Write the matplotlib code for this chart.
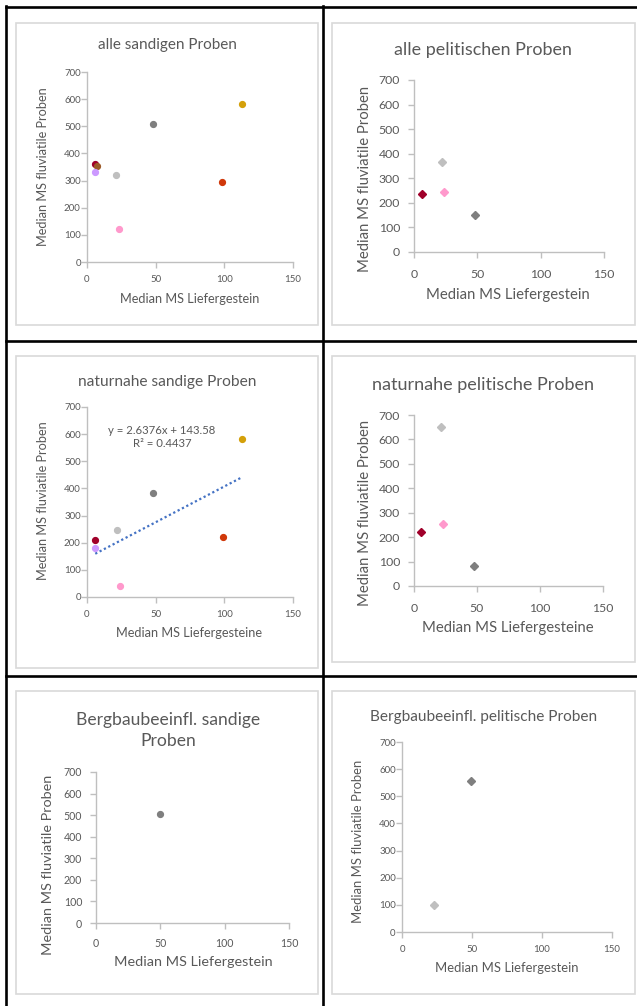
import matplotlib
matplotlib.use("Agg")
import matplotlib.pyplot as plt
from matplotlib.lines import Line2D
from matplotlib.patches import Rectangle

plt.rcParams['font.family'] = ['Lato', 'DejaVu Sans']

W, H = 637, 1006
TXT = '#595959'
AX = '#BFBFBF'

# colours of the sample groups (Excel palette)
c_darkred = '#A0002A'
c_brown = '#9C5A28'
c_violet = '#CC99FF'
c_lgray = '#BFBFBF'
c_pink = '#FF99CC'
c_dgray = '#7F7F7F'
c_orange = '#D0380A'
c_gold = '#D4A00A'

# alle sandigen Proben
p1_x = [5.6, 7.5, 5.6, 21.1, 23.5, 48.0, 98.5, 112.6]
p1_y = [361, 354, 330, 322, 120, 508, 294, 581]
p1_c = [c_darkred, c_brown, c_violet, c_lgray, c_pink, c_dgray, c_orange, c_gold]

# alle pelitischen Proben
p2_x = [22.1, 6.1, 24.0, 48.5]
p2_y = [366, 235, 245, 150]
p2_c = [c_lgray, c_darkred, c_pink, c_dgray]

# naturnahe sandige Proben
p3_x = [6.0, 6.0, 21.5, 24.0, 48.4, 98.7, 112.7]
p3_y = [209, 182, 246, 40, 385, 220, 582]
p3_c = [c_darkred, c_violet, c_lgray, c_pink, c_dgray, c_orange, c_gold]
trend_slope = 2.6376
trend_icpt = 143.58
trend_r2 = 0.4437

# naturnahe pelitische Proben
p4_x = [21.5, 23.4, 5.3, 48.0]
p4_y = [651, 252, 220, 82]
p4_c = [c_lgray, c_pink, c_darkred, c_dgray]

# Bergbaubeeinfl. sandige Proben
p5_x = [49.5]
p5_y = [506]
p5_c = [c_dgray]

# Bergbaubeeinfl. pelitische Proben
p6_x = [49.5, 22.9]
p6_y = [558, 100]
p6_c = [c_dgray, c_lgray]

xticks = [0, 50, 100, 150]
yticks = [0, 100, 200, 300, 400, 500, 600, 700]
ylab = 'Median MS fluviatile Proben'

fig = plt.figure(figsize=(W / 100, H / 100), dpi=100)


def fx(x):
    return x / W


def fy(y):
    return 1 - y / H


def box(x0, y0, x1, y1):
    fig.add_artist(Rectangle((fx(x0), fy(y1)), fx(x1) - fx(x0), fy(y0) - fy(y1),
                             transform=fig.transFigure, fill=False,
                             edgecolor='#D9D9D9', lw=1.2))


def panel(rect, xs, ys, cs, marker, msize, title, tpos, tsize, xlabel, xlpos,
          ylpos, lsize, ticksize, xpad, ypad):
    x0, y0, x1, y1 = rect
    ax = fig.add_axes([fx(x0), fy(y1), fx(x1) - fx(x0), fy(y0) - fy(y1)])
    for x, y, c in zip(xs, ys, cs):
        ax.plot(x, y, marker=marker, ms=msize, color=c, mec=c, ls='none',
                clip_on=False, zorder=3)
    ax.set_xlim(0, 150)
    ax.set_ylim(0, 700)
    ax.set_xticks(xticks)
    ax.set_yticks(yticks)
    for s in ['top', 'right']:
        ax.spines[s].set_visible(False)
    for s in ['left', 'bottom']:
        ax.spines[s].set_color(AX)
        ax.spines[s].set_linewidth(1.0)
    ax.tick_params(axis='both', colors=AX, labelcolor=TXT, labelsize=ticksize,
                   length=4, width=1.0)
    ax.tick_params(axis='x', pad=xpad)
    ax.tick_params(axis='y', pad=ypad)
    ax.set_xlabel(xlabel, fontsize=lsize, color=TXT, va='center', ha='center')
    ax.set_ylabel(ylab, fontsize=lsize, color=TXT, va='center', ha='center')
    ax.xaxis.set_label_coords((xlpos[0] - x0) / (x1 - x0), (y1 - xlpos[1]) / (y1 - y0))
    ax.yaxis.set_label_coords((ylpos[0] - x0) / (x1 - x0), (y1 - ylpos[1]) / (y1 - y0))
    if isinstance(tpos[0], (list, tuple)):
        for t, p in zip(title, tpos):
            fig.text(fx(p[0]), fy(p[1]), t, fontsize=tsize, color=TXT,
                     ha='center', va='center')
    else:
        fig.text(fx(tpos[0]), fy(tpos[1]), title, fontsize=tsize, color=TXT,
                 ha='center', va='center')
    return ax


# grey chart frames
box(16, 23, 318, 325)
box(332, 23, 635, 325)
box(16, 356, 318, 668)
box(332, 356, 635, 662)
box(16, 691, 318, 994)
box(332, 691, 635, 994)

panel((87, 72, 293, 262), p1_x, p1_y, p1_c, 'o', 4.2,
      'alle sandigen Proben', (167, 45), 11,
      'Median MS Liefergestein', (190, 299), (43, 167), 9.2, 7.0, 5.5, 0.5)

panel((414, 80, 604, 252), p2_x, p2_y, p2_c, 'D', 4.2,
      'alle pelitischen Proben', (483, 50), 12.9,
      'Median MS Liefergestein', (508, 295), (365, 179), 10.7, 8.8, 8, 6)

ax3 = panel((87, 407, 293, 597), p3_x, p3_y, p3_c, 'o', 4.2,
            'naturnahe sandige Proben', (167, 382), 11.2,
            'Median MS Liefergesteine', (189, 633), (43, 501), 9.2, 7.0, 5.5, 0.5)
tx = [min(p3_x), max(p3_x)]
ty = [trend_slope * v + trend_icpt for v in tx]
ax3.plot(tx, ty, ls=(0, (1, 1.2)), color='#4472C4', lw=1.6, zorder=2)
ax3.text(54.5, 615, 'y = %.4fx + %.2f' % (trend_slope, trend_icpt),
         fontsize=8.2, color=TXT, ha='center', va='center')
ax3.text(54.5, 567, 'R² = %.4f' % trend_r2,
         fontsize=8.2, color=TXT, ha='center', va='center')

panel((414, 415, 603, 586), p4_x, p4_y, p4_c, 'D', 4.2,
      'naturnahe pelitische Proben', (483, 385), 13,
      'Median MS Liefergesteine', (508, 628), (365, 513), 10.7, 8.8, 8, 6)

panel((96, 772, 289, 923), p5_x, p5_y, p5_c, 'o', 4.2,
      ['Bergbaubeeinfl. sandige', 'Proben'], ((168, 720), (168, 741)), 12.6,
      'Median MS Liefergestein', (193, 962), (48, 865), 10.4, 7.6, 7, 6)

panel((402, 742, 612, 932), p6_x, p6_y, p6_c, 'D', 3.8,
      'Bergbaubeeinfl. pelitische Proben', (484, 717), 11.1,
      'Median MS Liefergestein', (507, 968), (358, 841), 9.4, 7.0, 5.5, 0.5)

# black table grid
def hline(y, x0, x1):
    fig.add_artist(Line2D([fx(x0), fx(x1)], [fy(y), fy(y)], transform=fig.transFigure,
                          color='black', lw=1.9))


def vline(x, y0, y1):
    fig.add_artist(Line2D([fx(x), fx(x)], [fy(y0), fy(y1)], transform=fig.transFigure,
                          color='black', lw=1.9))


hline(6.5, 5.5, 637)
hline(341, 5.5, 637)
hline(675.5, 5.5, 637)
vline(6.5, 5.5, 1006)
vline(322.5, 5.5, 1006)

fig.savefig('out.png', dpi=100, facecolor='white')
